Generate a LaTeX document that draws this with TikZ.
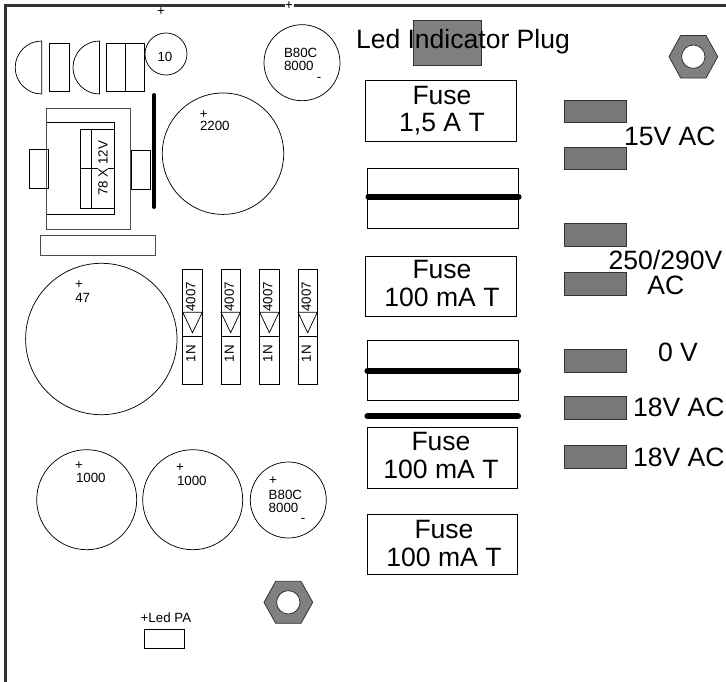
\documentclass[tikz,border=0pt]{standalone}
\usepackage{fontspec}
\setmainfont{Liberation Sans}
\definecolor{padgray}{gray}{0.47}
\definecolor{frameline}{gray}{0.2}
\tikzset{
  x=0.75pt,y=-0.75pt,
  part/.style={draw=black,line width=0.55pt},
  grayline/.style={draw=black!70,line width=0.6pt},
  thickbar/.style={draw=black,line width=4.6pt,line cap=round},
  vbar/.style={draw=black,line width=3pt,line cap=round},
  pad/.style={draw=black!80,fill=padgray,line width=0.6pt},
  nut/.style={draw=black!80,fill=black!50,line width=0.6pt},
  hole/.style={draw=black!80,fill=white,line width=0.6pt},
  bigl/.style={inner sep=0pt,outer sep=0pt,font=\fontsize{19.9}{22}\selectfont,anchor=base west},
  bigc/.style={inner sep=0pt,outer sep=0pt,font=\fontsize{19.9}{22}\selectfont,anchor=base},
  smalll/.style={inner sep=0pt,outer sep=0pt,font=\fontsize{10}{12}\selectfont,anchor=base west},
  sign/.style={inner sep=0pt,outer sep=0pt,font=\fontsize{10}{12}\selectfont,anchor=center},
  rottext/.style={inner sep=0pt,outer sep=0pt,font=\fontsize{10}{12}\selectfont,rotate=90,anchor=center},
}
\begin{document}
\begin{tikzpicture}
\useasboundingbox (0,0) rectangle (726,682);
\fill[white] (0,0) rectangle (726,682);
% board frame
\draw[draw=frameline,line width=1.9pt] (5.5,682) -- (5.5,5.5) -- (726,5.5);
\fill[white] (285,2) rectangle (294,9);
\node[sign] (plusa) at (289,6) {+};
\node[sign] (plusb) at (161,12) {+};
% half round parts
\draw[part] (41.7,41) arc[start angle=-90,end angle=-270,radius=26.5] -- cycle;
\draw[part] (99.5,41) arc[start angle=-90,end angle=-270,radius=26.5] -- cycle;
\draw[part] (49.5,43.5) rectangle (69,91.7);
\draw[part] (106,43.5) rectangle (144.7,91.7);
\draw[part] (125,43.5) -- (125,91.7);
% capacitors top
\draw[part] (166,54) circle[radius=21];
\node[smalll] (c10) at (157.5,61) {10};
\draw[part] (302,62.7) circle[radius=38];
\node[smalll] (ba1) at (284,57) {B80C};
\node[smalll] (ba2) at (284,70) {8000};
\node[sign] (bam) at (319,79) {-};
\draw[vbar] (154,95) -- (154,207);
\draw[part] (223,153.7) circle[radius=60.7];
\node[sign] (c22p) at (203.7,114.5) {+};
\node[smalll] (c22) at (200,130.7) {2200};
% regulator
\draw[grayline] (46.7,108) rectangle (130,229.3);
\draw[part] (46.7,122.7) -- (114.7,122.7) -- (114.7,214.3) -- (46.7,214.3);
\draw[part] (80.7,129) rectangle (114.7,208.3);
\draw[part] (91.7,129) -- (91.7,208.3);
\draw[part] (80.7,168.3) -- (114.7,168.3);
\draw[part] (29.3,149.7) rectangle (48.7,188);
\draw[part] (131.3,150.7) rectangle (150.3,189);
\node[rottext,fill=white] (reg) at (103,168.5) {78 X 12V};
\draw[grayline] (40,235.7) rectangle (155.3,255);
% large capacitor
\draw[part] (101.3,339) circle[radius=75.7];
\node[sign] (c47p) at (79,285) {+};
\node[smalll] (c47) at (75.3,302) {47};
% diodes
\foreach \n/\xa/\xb in {1/182.7/202.3,2/221/240.3,3/259.7/279,4/298/317.3}{
  \draw[part] (\xa,269.3) rectangle (\xb,384.7);
  \draw[part] (\xa,312.3) -- (\xb,312.3) -- ({(\xa+\xb)/2},332.7) -- cycle;
  \draw[part] (\xa,336.7) -- (\xb,336.7);
  \node[rottext] (da\n) at ({\xa+8.2},296.7) {4007};
  \node[rottext] (db\n) at ({\xa+8.2},353.7) {1N};
}
% bottom capacitors
\draw[part] (86.7,499.7) circle[radius=50];
\node[sign] (c1p) at (79,465.5) {+};
\node[smalll] (c1) at (76,482) {1000};
\draw[part] (192.7,499.7) circle[radius=50];
\node[sign] (c2p) at (180,467.5) {+};
\node[smalll] (c2) at (177,485) {1000};
\draw[part] (288.3,500) circle[radius=38];
\node[sign] (bbp) at (273,480.5) {+};
\node[smalll] (bb1) at (268.7,499) {B80C};
\node[smalll] (bb2) at (268.7,512) {8000};
\node[sign] (bbm) at (303,520) {-};
% bottom nut and led
\draw[nut] (264,602.3) -- (275.7,581.3) -- (301,581.3) -- (312.7,602.3) -- (301,623.3) -- (275.7,623.3) -- cycle;
\draw[hole] (288.3,602.3) circle[radius=11.7];
\draw[part] (144.3,629.7) rectangle (184.3,648.7);
\node[smalll] (ledpa) at (140.7,622) {+Led PA};
% top right nut
\draw[nut] (669,56.7) -- (680.7,35.5) -- (706,35.5) -- (717.7,56.7) -- (706,78) -- (680.7,78) -- cycle;
\draw[hole] (693.3,56.7) circle[radius=11.7];
% led plug
\draw[pad,fill=black!50] (413.3,20) rectangle (481.7,65.7);
\node[bigl] (plug) at (356,48.7) {Led Indicator Plug};
% fuses
\draw[part] (365.7,80.3) rectangle (516.3,141.3);
\node[bigc] (f1a) at (442,104) {Fuse};
\node[bigc] (f1b) at (442,131.7) {1,5 A T};
\draw[part] (367.3,168.3) rectangle (518,228.7);
\draw[thickbar] (368.5,196.7) -- (518.5,196.7);
\draw[part] (365.7,256) rectangle (516.3,316.3);
\node[bigc] (f2a) at (442,278.3) {Fuse};
\node[bigc] (f2b) at (442,306) {100 mA T};
\draw[part] (367.3,340) rectangle (518,400.3);
\draw[thickbar] (367.5,370.7) -- (518,370.7);
\draw[thickbar] (367.5,416.3) -- (518,416.3);
\draw[part] (367.3,427.3) rectangle (517.7,488.3);
\node[bigc] (f3a) at (441,450.7) {Fuse};
\node[bigc] (f3b) at (441,478.3) {100 mA T};
\draw[part] (367.3,514) rectangle (517.7,574.7);
\node[bigc] (f4a) at (444,538.3) {Fuse};
\node[bigc] (f4b) at (444,566) {100 mA T};
% terminals
\foreach \ya/\yb in {100/122.7,147/169.7,223.7/246.7,272.7/295.7,349.7/372.7,396.3/419.3,445.7/468.3}{
  \draw[pad] (564.3,\ya) rectangle (626,\yb);
}
\node[bigl] (t1) at (624,145.7) {15V AC};
\node[bigl] (t2) at (608.7,269) {250/290V};
\node[bigl] (t3) at (647.3,294.3) {AC};
\node[bigl] (t4) at (658,361.7) {0 V};
\node[bigl] (t5) at (633,416) {18V AC};
\node[bigl] (t6) at (633,466) {18V AC};
\end{tikzpicture}
\end{document}
